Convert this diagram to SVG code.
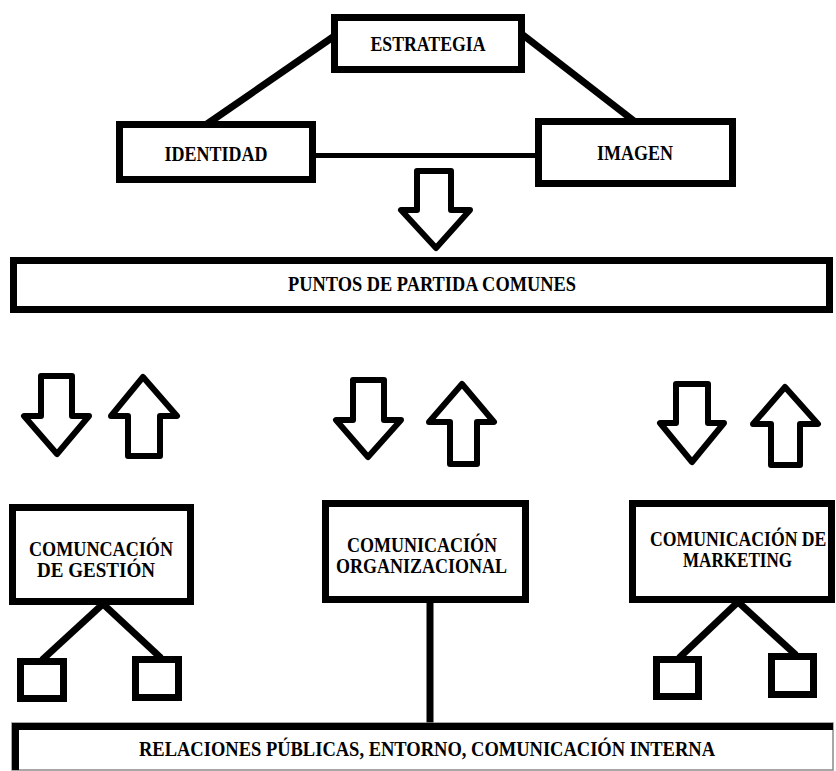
<svg xmlns="http://www.w3.org/2000/svg" width="836" height="771" viewBox="0 0 836 771">
  <style>
    .box { fill: #ffffff; stroke: #000000; stroke-width: 7; }
    .link { fill: none; stroke: #000000; stroke-width: 7; stroke-linecap: butt; }
    .arrow { fill: #ffffff; stroke: #000000; stroke-width: 6; stroke-linejoin: round; }
    .label { font-family: "Liberation Serif", "Times New Roman", serif; font-weight: bold; font-size: 20px; fill: #000000; }
    .mid { text-anchor: middle; }
  </style>

  <rect x="0" y="0" width="836" height="771" fill="#ffffff"/>

  <!-- connectors -->
  <g id="connectors">
    <line class="link" x1="333" y1="37" x2="207" y2="124"/>
    <line class="link" x1="523" y1="35" x2="634" y2="121"/>
    <line class="link" x1="316" y1="155.5" x2="537" y2="155.5" style="stroke-width:5"/>
    <line class="link" x1="430" y1="603" x2="430" y2="726"/>
    <!-- gestión branches -->
    <line class="link" x1="104" y1="603" x2="42" y2="660"/>
    <line class="link" x1="102" y1="603" x2="161" y2="658"/>
    <!-- marketing branches -->
    <line class="link" x1="739" y1="601" x2="679" y2="658"/>
    <line class="link" x1="737" y1="601" x2="796" y2="655"/>
  </g>

  <!-- flow arrows -->
  <g id="arrows">
    <polygon class="arrow" points="417,171 451,171 451,210 470,210 436,248 401,210 417,210"/>
    <polygon class="arrow" points="41,376 72,376 72,416 89,416 57,454 24,416 41,416"/>
    <polygon class="arrow" points="143,377 177,416 160,416 160,456 128,456 128,416 111,416"/>
    <polygon class="arrow" points="353,380 384,380 384,420 401,420 368,457 336,420 353,420"/>
    <polygon class="arrow" points="462,384 494,422 477,422 477,464 450,464 450,422 429,422"/>
    <polygon class="arrow" points="676,384 708,384 708,423 724,423 692,462 660,423 676,423"/>
    <polygon class="arrow" points="785,387 818,424 800,424 800,465 771,465 771,424 753,424"/>
  </g>

  <g id="estrategia">
    <rect class="box" x="334.5" y="17.5" width="187" height="52"/>
    <text class="label mid" x="428" y="51" textLength="115" lengthAdjust="spacingAndGlyphs">ESTRATEGIA</text>
  </g>

  <g id="identidad">
    <rect class="box" x="119.5" y="124.5" width="193" height="55"/>
    <text class="label mid" x="216" y="161" textLength="103" lengthAdjust="spacingAndGlyphs">IDENTIDAD</text>
  </g>

  <g id="imagen">
    <rect class="box" x="538.5" y="121.5" width="194" height="62"/>
    <text class="label mid" x="635" y="160" textLength="76" lengthAdjust="spacingAndGlyphs">IMAGEN</text>
  </g>

  <g id="puntos-partida">
    <rect class="box" x="13.5" y="260.5" width="816" height="49"/>
    <text class="label mid" x="432" y="291" textLength="288" lengthAdjust="spacingAndGlyphs">PUNTOS DE PARTIDA COMUNES</text>
  </g>

  <g id="comunicacion-gestion">
    <rect class="box" x="12.5" y="507.5" width="178" height="94"/>
    <text class="label" x="29" y="556" textLength="144" lengthAdjust="spacingAndGlyphs">COMUNCACIÓN</text>
    <text class="label" x="37" y="577" textLength="118" lengthAdjust="spacingAndGlyphs">DE GESTIÓN</text>
  </g>

  <g id="comunicacion-organizacional">
    <rect class="box" x="325.5" y="503.5" width="200" height="96"/>
    <text class="label" x="347" y="552" textLength="150" lengthAdjust="spacingAndGlyphs">COMUNICACIÓN</text>
    <text class="label" x="336" y="573" textLength="171" lengthAdjust="spacingAndGlyphs">ORGANIZACIONAL</text>
  </g>

  <g id="comunicacion-marketing">
    <rect class="box" x="632.5" y="503.5" width="199" height="96"/>
    <text class="label" transform="translate(650,546) scale(0.885,1)">COMUNICACIÓN DE</text>
    <text class="label" x="683" y="567" textLength="109" lengthAdjust="spacingAndGlyphs">MARKETING</text>
  </g>

  <g id="gestion-sub-1">
    <rect class="box" x="20.5" y="661.5" width="43" height="37"/>
  </g>
  <g id="gestion-sub-2">
    <rect class="box" x="135.5" y="659.5" width="43" height="38"/>
  </g>
  <g id="marketing-sub-1">
    <rect class="box" x="656.5" y="659.5" width="42" height="37"/>
  </g>
  <g id="marketing-sub-2">
    <rect class="box" x="771.5" y="656.5" width="42" height="38"/>
  </g>

  <g id="relaciones-publicas">
    <rect x="12" y="723" width="821" height="47" fill="#ffffff" stroke="#8a8a8a" stroke-width="1.5"/>
    <path d="M15.5,770 V726.5 H833" fill="none" stroke="#000000" stroke-width="7"/>
    <text class="label" x="139" y="756" textLength="576" lengthAdjust="spacingAndGlyphs">RELACIONES PÚBLICAS, ENTORNO, COMUNICACIÓN INTERNA</text>
  </g>
</svg>
